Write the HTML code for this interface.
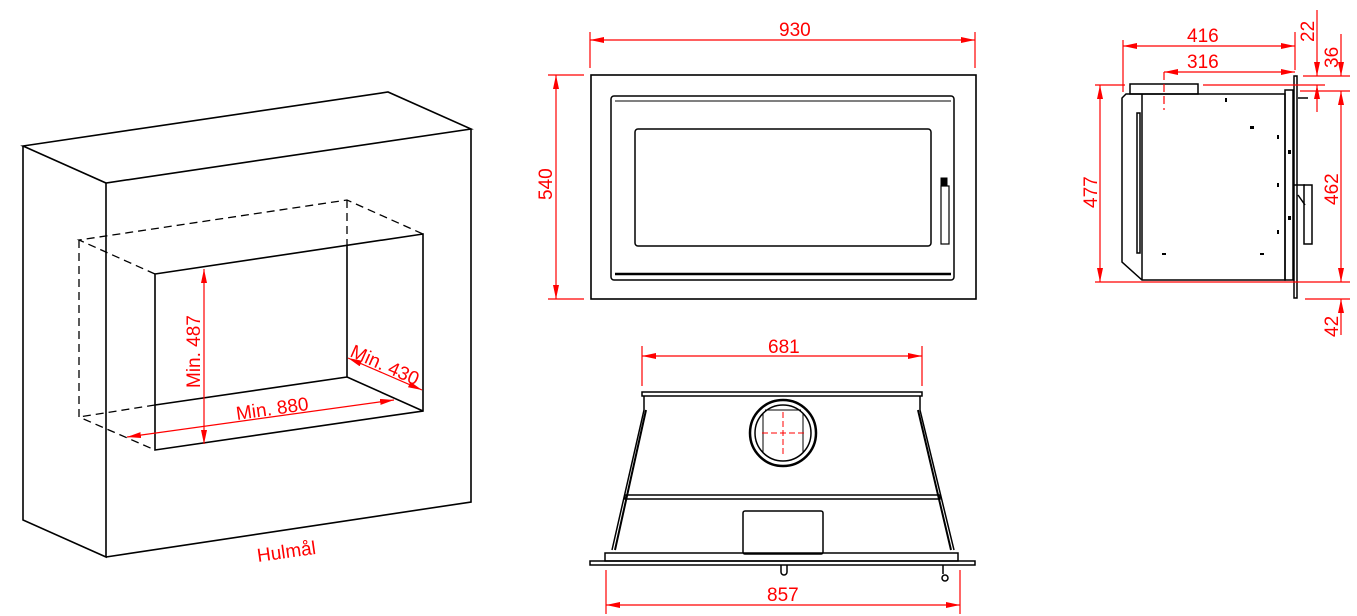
<!DOCTYPE html>
<html><head><meta charset="utf-8"><style>
html,body{margin:0;padding:0;background:#fff;width:1357px;height:616px;overflow:hidden}
svg{display:block}
text{font-family:"Liberation Sans",sans-serif;fill:#ff0000;font-size:19px}
</style></head><body>
<svg width="1357" height="616" viewBox="0 0 1357 616" xmlns="http://www.w3.org/2000/svg">
<defs>
<marker id="a" markerWidth="14" markerHeight="6" refX="14" refY="3" orient="auto" markerUnits="userSpaceOnUse"><path d="M0,0 L14,3 L0,6 Z" fill="#f00"/></marker>
<marker id="b" markerWidth="14" markerHeight="6" refX="0" refY="3" orient="auto" markerUnits="userSpaceOnUse"><path d="M14,0 L0,3 L14,6 Z" fill="#f00"/></marker>
</defs>
<!-- Left iso box -->
<g stroke="#000" stroke-width="1.6" fill="none">
<path d="M23,146 L388,92 L471,129 L106,183 Z"/>
<path d="M23,146 L23,520 L106,557 L106,183"/>
<path d="M106,557 L471,502 L471,129"/>
<path d="M155,274 L423,234 L423,411 L155,450 Z"/>
<path d="M347,245 L347,377 L423,411"/>
<path d="M347,377 L155,405"/>
</g>
<g stroke="#000" stroke-width="1.3" fill="none" stroke-dasharray="8,5">
<path d="M155,274 L79,240 L347,200 L423,234"/>
<path d="M347,200 L347,245"/>
<path d="M79,240 L79,417 L155,450"/>
<path d="M155,405 L79,417"/>
</g>
<g stroke="#f00" stroke-width="1.2" fill="none">
<line x1="204" y1="269" x2="204" y2="444" marker-start="url(#b)" marker-end="url(#a)"/>
<line x1="127" y1="437" x2="394" y2="400" marker-start="url(#b)" marker-end="url(#a)"/>
<line x1="348" y1="358" x2="422" y2="390" marker-start="url(#b)" marker-end="url(#a)"/>
</g>
<text transform="translate(200,388) rotate(-90)">Min. 487</text>
<text transform="translate(237,420) rotate(-8)">Min. 880</text>
<text transform="translate(349,356) rotate(24)">Min. 430</text>
<text transform="translate(258,562) rotate(-8)">Hulmål</text>

<!-- Front view -->
<g stroke="#000" fill="none">
<rect x="591" y="75" width="385" height="224" stroke-width="1.6"/>
<rect x="611" y="96" width="343" height="184" rx="3" stroke-width="1.5"/>
<line x1="615" y1="101" x2="951" y2="101" stroke-width="1"/>
<line x1="615" y1="274" x2="951" y2="274" stroke-width="2.5"/>
<rect x="635" y="129" width="296" height="117" rx="3" stroke-width="1.5"/>
<rect x="941" y="186" width="8" height="58" stroke-width="1.2"/>
<rect x="941" y="178" width="6" height="8" fill="#000"/>
</g>
<g stroke="#f00" stroke-width="1.2" fill="none">
<line x1="590" y1="32" x2="590" y2="68"/><line x1="975" y1="32" x2="975" y2="68"/>
<line x1="590" y1="40" x2="975" y2="40" marker-start="url(#b)" marker-end="url(#a)"/>
<line x1="548" y1="75" x2="584" y2="75"/><line x1="548" y1="299" x2="584" y2="299"/>
<line x1="556" y1="75" x2="556" y2="299" marker-start="url(#b)" marker-end="url(#a)"/>
</g>
<text x="779" y="36">930</text>
<text transform="translate(552,200) rotate(-90)">540</text>

<!-- Bottom view -->
<g stroke="#000" fill="none" stroke-width="1.5">
<rect x="642" y="392" width="280" height="4"/>
<path d="M644,396 L644,410 L612,550"/>
<path d="M920,396 L920,410 L954,550"/>
<path d="M646,410 L615,550" stroke-width="2"/><path d="M918,410 L951,550" stroke-width="2"/>
<rect x="625" y="495" width="315" height="4"/>
<circle cx="783" cy="433" r="33" stroke-width="2.5"/>
<circle cx="783" cy="433" r="28" stroke-width="1.5"/>
<path d="M763,413 L763,452 M803,413 L803,452 M765,410 L801,410" stroke-width="1"/>
<rect x="743" y="511" width="80" height="43" rx="2"/>
<rect x="605" y="553" width="353" height="8"/>
<rect x="590" y="561" width="385" height="4"/>
<path d="M781,565 L781,572 A3,3 0 0 0 787,572 L787,565"/>
<path d="M943,565 L943,574"/><circle cx="945" cy="578" r="3"/>
</g>
<g stroke="#f00" stroke-width="1" fill="none">
<line x1="783" y1="412" x2="783" y2="455" stroke-dasharray="6,3"/>
<line x1="762" y1="433" x2="805" y2="433" stroke-dasharray="6,3"/>
</g>
<g stroke="#f00" stroke-width="1.2" fill="none">
<line x1="642" y1="346" x2="642" y2="386"/><line x1="922" y1="346" x2="922" y2="386"/>
<line x1="642" y1="356" x2="922" y2="356" marker-start="url(#b)" marker-end="url(#a)"/>
<line x1="606" y1="570" x2="606" y2="614"/><line x1="960" y1="570" x2="960" y2="614"/>
<line x1="606" y1="605" x2="960" y2="605" marker-start="url(#b)" marker-end="url(#a)"/>
</g>
<text x="768" y="353">681</text>
<text x="767" y="601">857</text>

<!-- Side view -->
<g stroke="#000" fill="none" stroke-width="1.5">
<rect x="1130" y="84" width="68" height="10"/>
<path d="M1126,94 L1285,94 L1285,280 L1142,280 L1122,262 L1122,98 Z"/>
<line x1="1142" y1="94" x2="1142" y2="280"/>
<rect x="1137" y="113" width="3" height="140"/>
<rect x="1285" y="90" width="8" height="190"/>
<rect x="1294" y="76" width="3" height="222"/>
<rect x="1304" y="185" width="8" height="59"/>
<path d="M1293,185 L1305,185 M1298,195 L1305,205"/>
<line x1="1298" y1="98" x2="1308" y2="98"/>
</g>
<g fill="#000">
<rect x="1225" y="98" width="2" height="4"/><rect x="1250" y="126" width="4" height="3"/>
<rect x="1277" y="135" width="2" height="4"/><rect x="1277" y="183" width="2" height="4"/>
<rect x="1277" y="230" width="2" height="4"/><rect x="1162" y="253" width="4" height="2"/>
<rect x="1260" y="253" width="4" height="2"/><rect x="1288" y="150" width="3" height="4"/>
<rect x="1288" y="216" width="3" height="4"/>
</g>
<g stroke="#f00" stroke-width="1.2" fill="none">
<line x1="1123" y1="40" x2="1123" y2="92"/>
<line x1="1295" y1="32" x2="1295" y2="70"/>
<line x1="1123" y1="46" x2="1295" y2="46" marker-start="url(#b)" marker-end="url(#a)"/>
<line x1="1164" y1="72" x2="1295" y2="72" marker-start="url(#b)" marker-end="url(#a)"/>
<line x1="1164" y1="72" x2="1164" y2="110" stroke-dasharray="8,4"/>
<line x1="1095" y1="85" x2="1125" y2="85"/>
<line x1="1203" y1="85" x2="1325" y2="85"/>
<line x1="1303" y1="76" x2="1350" y2="76"/>
<line x1="1300" y1="91" x2="1350" y2="91"/>
<line x1="1095" y1="282" x2="1350" y2="282"/>
<line x1="1305" y1="299" x2="1350" y2="299"/>
<line x1="1100" y1="85" x2="1100" y2="282" marker-start="url(#b)" marker-end="url(#a)"/>
<line x1="1317" y1="10" x2="1317" y2="76" marker-end="url(#a)"/>
<line x1="1317" y1="85" x2="1317" y2="112" marker-start="url(#b)"/>
<line x1="1341" y1="34" x2="1341" y2="76" marker-end="url(#a)"/>
<line x1="1341" y1="91" x2="1341" y2="282" marker-start="url(#b)" marker-end="url(#a)"/>
<line x1="1341" y1="299" x2="1341" y2="335" marker-start="url(#b)"/>
</g>
<text x="1187" y="42">416</text>
<text x="1187" y="68">316</text>
<text transform="translate(1097,208) rotate(-90)">477</text>
<text transform="translate(1314,42) rotate(-90)">22</text>
<text transform="translate(1338,68) rotate(-90)">36</text>
<text transform="translate(1338,205) rotate(-90)">462</text>
<text transform="translate(1338,337) rotate(-90)">42</text>
</svg>
</body></html>
